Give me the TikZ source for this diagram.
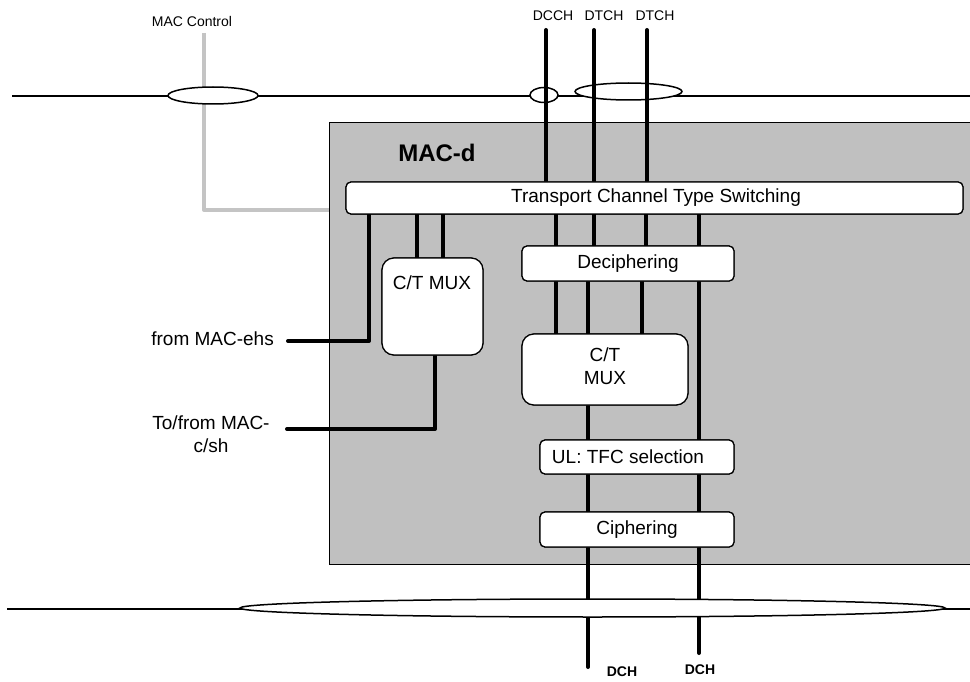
\documentclass[tikz,border=0pt]{standalone}
\usepackage{fontspec}
\setmainfont{Liberation Sans}
\usetikzlibrary{shapes.geometric}
\definecolor{macgray}{HTML}{C0C0C0}
\definecolor{ctrlgray}{HTML}{C4C4C4}
\begin{document}
\begin{tikzpicture}[x=1pt,y=-1pt,
  chan/.style={line width=4pt, line cap=round, line join=round},
  bus/.style={line width=1.8pt},
  ctrl/.style={line width=4pt, draw=ctrlgray, line join=round},
  blk/.style={draw, line width=1.2pt, fill=white, rounded corners=5pt, inner sep=0pt,
              font=\fontsize{19}{23}\selectfont},
  mux/.style={blk, rounded corners=12pt},
  oval/.style={draw, line width=1.5pt, ellipse, inner sep=0pt, fill=white},
  lbl/.style={font=\fontsize{19}{23}\selectfont, inner sep=0pt},
  small/.style={font=\fontsize{14}{16}\selectfont, inner sep=0pt},
  dchlbl/.style={font=\bfseries\fontsize{14}{16}\selectfont, inner sep=0pt}
]
\useasboundingbox (0,0) rectangle (970,682);

% coordinates
\coordinate (topL) at (12,96);
\coordinate (topR) at (980,96);
\coordinate (botL) at (7,609);
\coordinate (botR) at (980,609);
\coordinate (macTop) at (204,33);
\coordinate (macCorner) at (204,210);
\coordinate (dcchT) at (546,30);
\coordinate (dtchT1) at (594,30);
\coordinate (dtchT2) at (647,30);
\coordinate (dchA) at (588,667);
\coordinate (dchB) at (699,653);
\coordinate (ehsCorner) at (369,341);
\coordinate (ehsEnd) at (288,341);
\coordinate (cshCorner) at (435,429);
\coordinate (cshEnd) at (287,429);

% top bus and MAC control
\draw[bus] (topL) -- (topR);
\node[small] (macctl) at (192,21) {MAC Control};

% MAC-d box
\node[draw, fill=macgray, line width=0.8pt, minimum width=660pt, minimum height=442pt,
      anchor=north west, inner sep=0pt] (macd) at (329,122) {};
\draw[ctrl] (macTop) -- (macCorner) -- (macCorner -| macd.west);
\node[font=\bfseries\fontsize{24}{28}\selectfont, inner sep=0pt] (macdlbl) at (437,153) {MAC-d};

% top ovals
\node[oval, minimum width=90pt, minimum height=17pt] (ovA) at (213,95.5) {};
\node[oval, minimum width=28pt, minimum height=15pt] (ovB) at (544,95) {};
\node[oval, minimum width=107pt, minimum height=17pt] (ovC) at (628.5,91.5) {};

% channel labels
\node[small] (dcchlbl) at (553,16) {DCCH};
\node[small] (dtchlbl1) at (604,16) {DTCH};
\node[small] (dtchlbl2) at (655,16) {DTCH};

% block nodes (placed first for naming; redrawn by order below)
\path
  node[blk, minimum width=617pt, minimum height=32pt] (tcts) at (654.5,198) {}
  node[blk, minimum width=212pt, minimum height=35pt] (deciph) at (628,263.5) {}
  node[mux, minimum width=101pt, minimum height=97pt] (muxA) at (432.5,306.5) {}
  node[mux, minimum width=166pt, minimum height=71pt] (muxB) at (605,369.5) {}
  node[blk, minimum width=194pt, minimum height=34pt] (ul) at (637,457) {}
  node[blk, minimum width=194pt, minimum height=35pt] (ciph) at (637,529.5) {};

% channel lines
\draw[chan] (dcchT) -- (dcchT |- tcts.north);
\draw[chan] (dtchT1) -- (dtchT1 |- tcts.north);
\draw[chan] (dtchT2) -- (dtchT2 |- tcts.north);

\draw[chan] (tcts.south -| 556,0) -- (deciph.north -| 556,0);
\draw[chan] (tcts.south -| 594,0) -- (deciph.north -| 594,0);
\draw[chan] (tcts.south -| 646,0) -- (deciph.north -| 646,0);
\draw[chan] (tcts.south -| dchB) -- (dchB);

\draw[chan] (deciph.south -| 556,0) -- (muxB.north -| 556,0);
\draw[chan] (deciph.south -| 588,0) -- (muxB.north -| 588,0);
\draw[chan] (deciph.south -| 642,0) -- (muxB.north -| 642,0);
\draw[chan] (muxB.south -| dchA) -- (dchA);

\draw[chan] (tcts.south -| ehsCorner) -- (ehsCorner) -- (ehsEnd);
\draw[chan] (tcts.south -| 417,0) -- (muxA.north -| 417,0);
\draw[chan] (tcts.south -| 443,0) -- (muxA.north -| 443,0);
\draw[chan] (muxA.south -| cshCorner) -- (cshCorner) -- (cshEnd);

% blocks drawn on top of the lines
\node[blk, minimum width=617pt, minimum height=32pt] (tctsB) at (tcts) {};
\node[lbl] (tctstxt) at (656,198) {Transport Channel Type Switching};
\node[blk, minimum width=212pt, minimum height=35pt] (deciphB) at (deciph) {Deciphering};
\node[mux, minimum width=101pt, minimum height=97pt] (muxAB) at (muxA) {};
\node[lbl] (muxAtxt) at (432,283) {C/T MUX};
\node[mux, minimum width=166pt, minimum height=71pt] (muxBB) at (muxB) {};
\node[lbl, align=center] (muxBtxt) at (605,366.5) {C/T\\MUX};
\node[blk, minimum width=194pt, minimum height=34pt] (ulB) at (ul) {};
\node[lbl] (ultxt) at (628,457) {UL: TFC selection};
\node[blk, minimum width=194pt, minimum height=35pt] (ciphB) at (ciph) {Ciphering};

% side labels
\node[lbl, anchor=east] (ehslbl) at (274,339) {from MAC-ehs};
\node[lbl, align=center] (cshlbl) at (211,434) {To/from MAC-\\c/sh};

% bottom bus
\draw[bus] (botL) -- (botR);
\node[oval, minimum width=705pt, minimum height=18pt] (ovD) at (592.5,608) {};
\node[dchlbl] (dchlblA) at (622,672) {DCH};
\node[dchlbl] (dchlblB) at (700,670) {DCH};
\end{tikzpicture}
\end{document}
